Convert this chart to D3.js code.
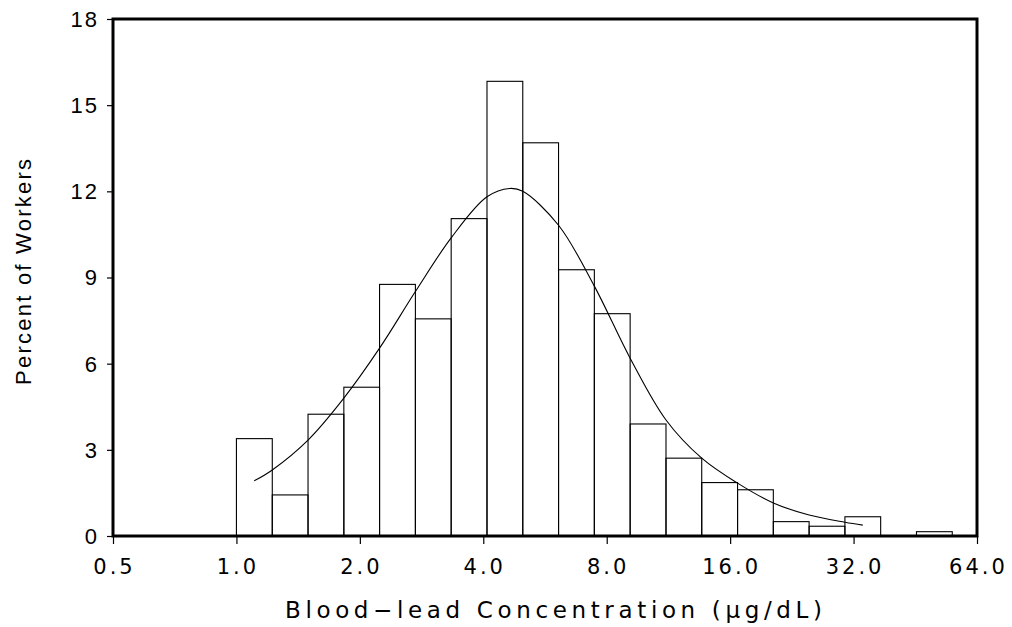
<!DOCTYPE html>
<html lang="en">
<head>
    <meta charset="UTF-8">
    <title>Blood-lead Concentration Histogram</title>
    <script src="https://d3js.org/d3.v7.min.js"></script>
    <style>
        body {
            margin: 0;
            background: #fff;
            font-family: "Liberation Sans", Arial, sans-serif;
        }
        .y-tick-label {
            font-size: 22px;
            letter-spacing: 2px;
            fill: #000;
        }
        .x-tick-label {
            font-family: "DejaVu Sans", sans-serif;
            font-size: 21px;
            fill: #000;
        }
        .x-title {
            font-family: "DejaVu Sans", sans-serif;
            font-size: 23px;
            fill: #000;
        }
        .y-title {
            font-size: 22px;
            fill: #000;
        }
    </style>
</head>
<body>
    <div id="chart"></div>

    <script>
        // Bin edges (ug/dL) on the log axis, and percent of workers per bin
        const binEdges = [1.00, 1.223, 1.495, 1.828, 2.234, 2.732, 3.340, 4.084, 4.993, 6.104, 7.463,
                          9.125, 11.16, 13.64, 16.68, 20.39, 24.93, 30.48, 37.26, 45.56, 55.70];
        const percents = [3.39, 1.43, 4.24, 5.18, 8.76, 7.56, 11.05, 15.83, 13.69, 9.27,
                          7.74, 3.90, 2.71, 1.86, 1.61, 0.50, 0.34, 0.67, 0, 0.15];

        // Fitted curve
        const curveX = [1.105, 1.223, 1.495, 1.828, 2.234, 2.732, 3.340, 4.084, 4.64, 4.993,
                        6.104, 7.463, 9.125, 11.16, 13.64, 16.68, 20.39, 24.93, 30.48, 33.7];
        const curveY = [1.92, 2.30, 3.34, 4.80, 6.54, 8.51, 10.38, 11.81, 12.10, 12.00,
                        10.82, 8.70, 6.19, 4.04, 2.71, 1.84, 1.15, 0.73, 0.48, 0.38];

        const xTicks = [0.5, 1, 2, 4, 8, 16, 32, 64];
        const yTicks = [0, 3, 6, 9, 12, 15, 18];

        const margin = { top: 19, right: 35, bottom: 91, left: 113 },
              width = 1012 - margin.left - margin.right,
              height = 627 - margin.top - margin.bottom;

        const svg = d3.select("#chart")
                      .append("svg")
                      .attr("width", width + margin.left + margin.right)
                      .attr("height", height + margin.top + margin.bottom)
                      .append("g")
                      .attr("transform", `translate(${margin.left},${margin.top})`);

        const x = d3.scaleLog().base(2).domain([0.5, 64]).range([0, width]);
        const y = d3.scaleLinear().domain([0, 18]).range([height, 0]);

        // bars
        const bins = percents.map((p, i) => ({ x0: binEdges[i], x1: binEdges[i + 1], value: p }));

        svg.selectAll(".bar")
            .data(bins.filter(d => d.value > 0))
            .enter().append("rect")
            .attr("class", "bar")
            .attr("x", d => x(d.x0))
            .attr("width", d => x(d.x1) - x(d.x0))
            .attr("y", d => y(d.value))
            .attr("height", d => y(0) - y(d.value))
            .attr("fill", "none")
            .attr("stroke", "#000")
            .attr("stroke-width", 1.1);

        // fitted curve
        const line = d3.line()
            .x((d, i) => x(curveX[i]))
            .y(d => y(d))
            .curve(d3.curveCatmullRom.alpha(0.5));

        svg.append("path")
            .datum(curveY)
            .attr("d", line)
            .attr("fill", "none")
            .attr("stroke", "#000")
            .attr("stroke-width", 1.1);

        // axes
        const yAxis = svg.append("g")
            .call(d3.axisLeft(y).tickValues(yTicks).tickSize(6).tickFormat(""));
        yAxis.select(".domain").remove();
        yAxis.selectAll(".tick line").attr("stroke-width", 1.2);

        const xAxis = svg.append("g")
            .attr("transform", `translate(0,${height})`)
            .call(d3.axisBottom(x).tickValues(xTicks).tickSize(8).tickFormat(""));
        xAxis.select(".domain").remove();
        xAxis.selectAll(".tick line").attr("stroke-width", 1.2);

        svg.selectAll(".y-tick-label")
            .data(yTicks)
            .enter().append("text")
            .attr("class", "y-tick-label")
            .attr("x", -14)
            .attr("y", d => y(d))
            .attr("dy", "0.36em")
            .attr("text-anchor", "end")
            .text(d => d);

        svg.selectAll(".x-tick-label")
            .data(xTicks)
            .enter().append("text")
            .attr("class", "x-tick-label")
            .attr("x", d => x(d) + 1.5)
            .attr("y", height + 38)
            .attr("text-anchor", "middle")
            .style("letter-spacing", "3px")
            .text(d => d3.format(".1f")(d));

        // frame
        svg.append("rect")
            .attr("width", width)
            .attr("height", height)
            .attr("fill", "none")
            .attr("stroke", "#000")
            .attr("stroke-width", 3);

        // titles
        svg.append("text")
            .attr("class", "x-title")
            .attr("x", (285 + 822) / 2 - margin.left)
            .attr("y", height + 82)
            .attr("text-anchor", "middle")
            .attr("textLength", 537)
            .attr("lengthAdjust", "spacing")
            .text("Blood\u2212lead Concentration (\u03bcg/dL)");

        svg.append("text")
            .attr("class", "y-title")
            .attr("transform", `translate(${31 - margin.left},${272 - margin.top}) rotate(-90)`)
            .attr("text-anchor", "middle")
            .attr("textLength", 226)
            .attr("lengthAdjust", "spacing")
            .text("Percent of Workers");
    </script>
</body>
</html>
